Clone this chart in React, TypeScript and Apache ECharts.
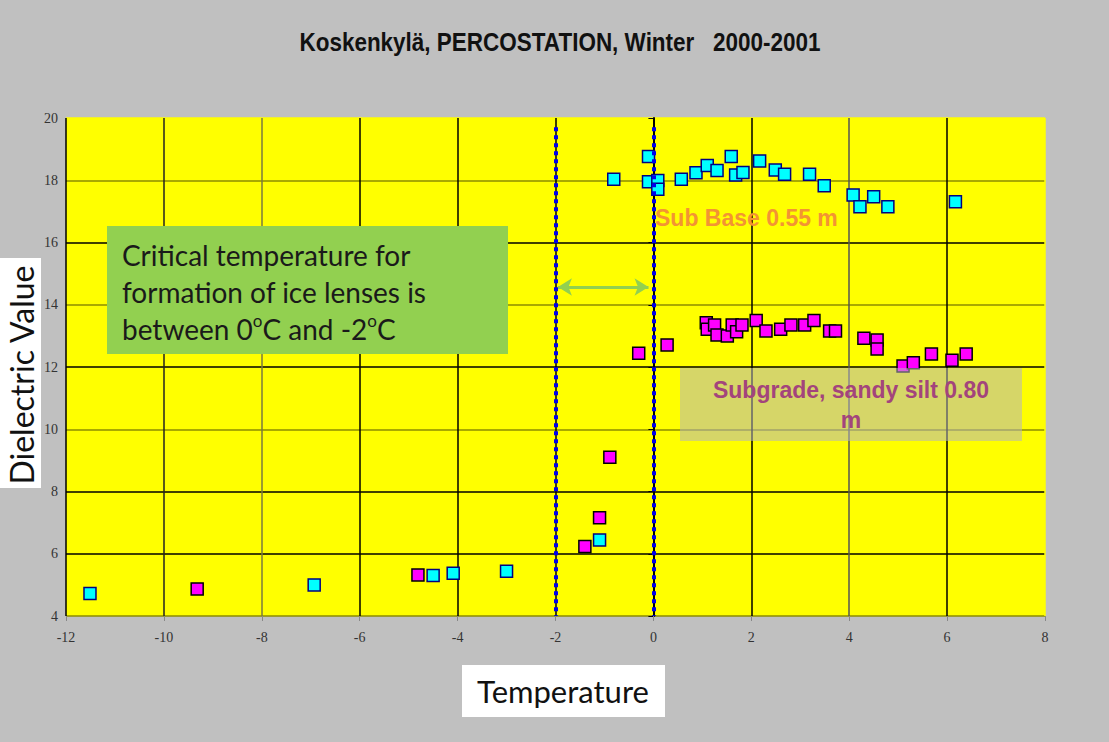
import React, { useEffect, useRef } from "react";
import * as echarts from "echarts";

const titleText = "Koskenkylä, PERCOSTATION, Winter   2000-2001";
const xAxisName = "Temperature";
const yAxisName = "Dielectric Value";

const xTicks = [-12, -10, -8, -6, -4, -2, 0, 2, 4, 6, 8];
const yTicks = [4, 6, 8, 10, 12, 14, 16, 18, 20];

const subBaseName = "Sub Base 0.55 m";
const subBaseTemp = [-11.51, -6.93, -4.5, -4.09, -3.0, -1.1, -0.81, -0.1, -0.1, 0.09, 0.09, 0.57, 0.87, 1.1, 1.3, 1.59, 1.68, 1.83, 2.17, 2.49, 2.68, 3.19, 3.49, 4.08, 4.22, 4.5, 4.79, 6.17];
const subBaseValue = [4.72, 5.0, 5.3, 5.37, 5.44, 6.44, 18.03, 18.76, 17.95, 17.99, 17.71, 18.03, 18.24, 18.47, 18.31, 18.76, 18.17, 18.25, 18.62, 18.33, 18.19, 18.19, 17.82, 17.53, 17.15, 17.47, 17.15, 17.31];

const subgradeName = "Subgrade, sandy silt 0.80\nm";
const subgradeTemp = [-9.32, -4.81, -1.4, -1.1, -0.89, -0.3, 0.28, 1.08, 1.1, 1.25, 1.3, 1.51, 1.61, 1.7, 1.81, 2.1, 2.3, 2.6, 2.81, 3.09, 3.28, 3.6, 3.72, 4.3, 4.57, 4.57, 5.1, 5.31, 5.68, 6.1, 6.39];
const subgradeValue = [4.87, 5.32, 6.23, 7.16, 9.1, 12.44, 12.71, 13.42, 13.21, 13.35, 13.03, 13.0, 13.35, 13.13, 13.35, 13.49, 13.16, 13.21, 13.35, 13.35, 13.49, 13.16, 13.16, 12.92, 12.87, 12.58, 12.03, 12.14, 12.42, 12.22, 12.42];

const criticalLimits = [-2, 0];
const arrowLevel = 14.57;
const noteLines = ["Critical temperature for", "formation of ice lenses is", "between 0{s|o}C and -2{s|o}C"];

export default function App() {
  const ref = useRef<HTMLDivElement>(null);
  useEffect(() => {
    if (!ref.current) return;
    const chart = echarts.init(ref.current, null, { renderer: "svg" });
    const calibri = "Lato, 'Open Sans', sans-serif";
    const option: any = {
      animation: false,
      backgroundColor: "#c0c0c0",
      grid: { left: 66, right: 64, top: 118, bottom: 126, show: true, backgroundColor: "#ffff00", borderWidth: 0 },
      xAxis: {
        type: "value", min: xTicks[0], max: xTicks[xTicks.length - 1], interval: 2,
        axisLine: { show: false },
        axisTick: { show: true, length: 5, lineStyle: { color: "#888" } },
        axisLabel: { fontFamily: "'Liberation Serif', 'Times New Roman', serif", fontSize: 14, color: "#333", margin: 14 },
        splitLine: {
          show: true, showMinLine: true, showMaxLine: true,
          lineStyle: { width: 1.5, color: ["#000", "#222", "#7a7a40", "#000", "#000", "#000", "#000", "#000", "#555", "#000", "#ffff00"] },
        },
      },
      yAxis: {
        type: "value", min: yTicks[0], max: yTicks[yTicks.length - 1], interval: 2,
        axisLine: { show: true, lineStyle: { color: "#000", width: 2 } },
        axisTick: { show: true, length: 5, lineStyle: { color: "#000" } },
        axisLabel: { fontFamily: "'Liberation Serif', 'Times New Roman', serif", fontSize: 14, color: "#333", margin: 8 },
        splitLine: {
          show: true, showMinLine: true, showMaxLine: true,
          lineStyle: { width: 1.5, color: ["#8c8c00", "#000", "#000", "#8c8c00", "#000", "#8c8c00", "#000", "#8c8c00", "#ffff00"] },
        },
      },
      series: [
        {
          name: subgradeName,
          type: "scatter",
          symbol: "rect",
          symbolSize: 12,
          itemStyle: { color: "#ff00ff", borderColor: "#000", borderWidth: 1.5, opacity: 1 },
          data: subgradeTemp.map((t, i) => [t, subgradeValue[i]]),
          z: 3,
          markLine: {
            silent: true,
            symbol: ["arrow", "arrow"],
            symbolSize: [13, 14],
            label: { show: false },
            lineStyle: { color: "#92d050", width: 3, type: "solid" },
            data: [[{ coord: [criticalLimits[0] + 0.05, arrowLevel] }, { coord: [criticalLimits[1] - 0.1, arrowLevel] }]],
          },
        },
        {
          name: subBaseName,
          type: "scatter",
          symbol: "rect",
          symbolSize: 12,
          itemStyle: { color: "#00ffff", borderColor: "#000080", borderWidth: 1.5, opacity: 1 },
          data: subBaseTemp.map((t, i) => [t, subBaseValue[i]]),
          z: 4,
          markLine: {
            silent: true,
            symbol: "none",
            label: { show: false },
            lineStyle: { color: "#0000ee", width: 4, type: [4, 4] },
            data: criticalLimits.map((c) => [{ coord: [c, 19.7] }, { coord: [c, 4] }]),
          },
        },
      ],
      graphic: [
        {
          type: "text", x: 560, y: 42, z: 20, scaleX: 0.865,
          style: { text: titleText, fontFamily: "'Liberation Sans', Arial, sans-serif", fontWeight: "bold", fontSize: 26, fill: "#111", textAlign: "center", textVerticalAlign: "middle" },
        },
        { type: "rect", z: 20, shape: { x: 0, y: 258, width: 41, height: 230 }, style: { fill: "#fff" } },
        {
          type: "text", x: 21, y: 375, rotation: Math.PI / 2, z: 21,
          style: { text: yAxisName, fontFamily: calibri, fontSize: 32, fill: "#111", textAlign: "center", textVerticalAlign: "middle" },
        },
        { type: "rect", z: 20, shape: { x: 462, y: 665, width: 203, height: 52 }, style: { fill: "#fff" } },
        {
          type: "text", x: 563, y: 691, z: 21,
          style: { text: xAxisName, fontFamily: calibri, fontSize: 31, fill: "#111", textAlign: "center", textVerticalAlign: "middle" },
        },
        { type: "rect", z: 20, shape: { x: 107, y: 226, width: 401, height: 128 }, style: { fill: "#92d050" } },
        {
          type: "text", x: 122, y: 236, z: 21,
          style: {
            text: noteLines.join("\n"), fontFamily: calibri, fontSize: 28, lineHeight: 37, fill: "#1a1a1a",
            textAlign: "left", textVerticalAlign: "top",
            rich: { s: { fontFamily: calibri, fontSize: 17, fill: "#1a1a1a", padding: [0, 0, 16, 0] } },
          },
        },
        {
          type: "text", x: 655, y: 218, z: 21,
          style: { text: subBaseName, fontFamily: "'Liberation Sans', Arial, sans-serif", fontWeight: "bold", fontSize: 23, fill: "#f39433", textAlign: "left", textVerticalAlign: "middle" },
        },
        { type: "rect", z: 20, shape: { x: 680, y: 368, width: 342, height: 73 }, style: { fill: "rgba(180,180,190,0.55)" } },
        {
          type: "text", x: 851, y: 405, z: 21,
          style: { text: subgradeName, fontFamily: "'Liberation Sans', Arial, sans-serif", fontWeight: "bold", fontSize: 23, lineHeight: 30, fill: "#a3447c", textAlign: "center", textVerticalAlign: "middle" },
        },
      ],
    };
    chart.setOption(option);
    return () => chart.dispose();
  }, []);
  return <div ref={ref} style={{ position: "fixed", left: 0, top: 0, width: 1109, height: 742, background: "#c0c0c0" }} />;
}
